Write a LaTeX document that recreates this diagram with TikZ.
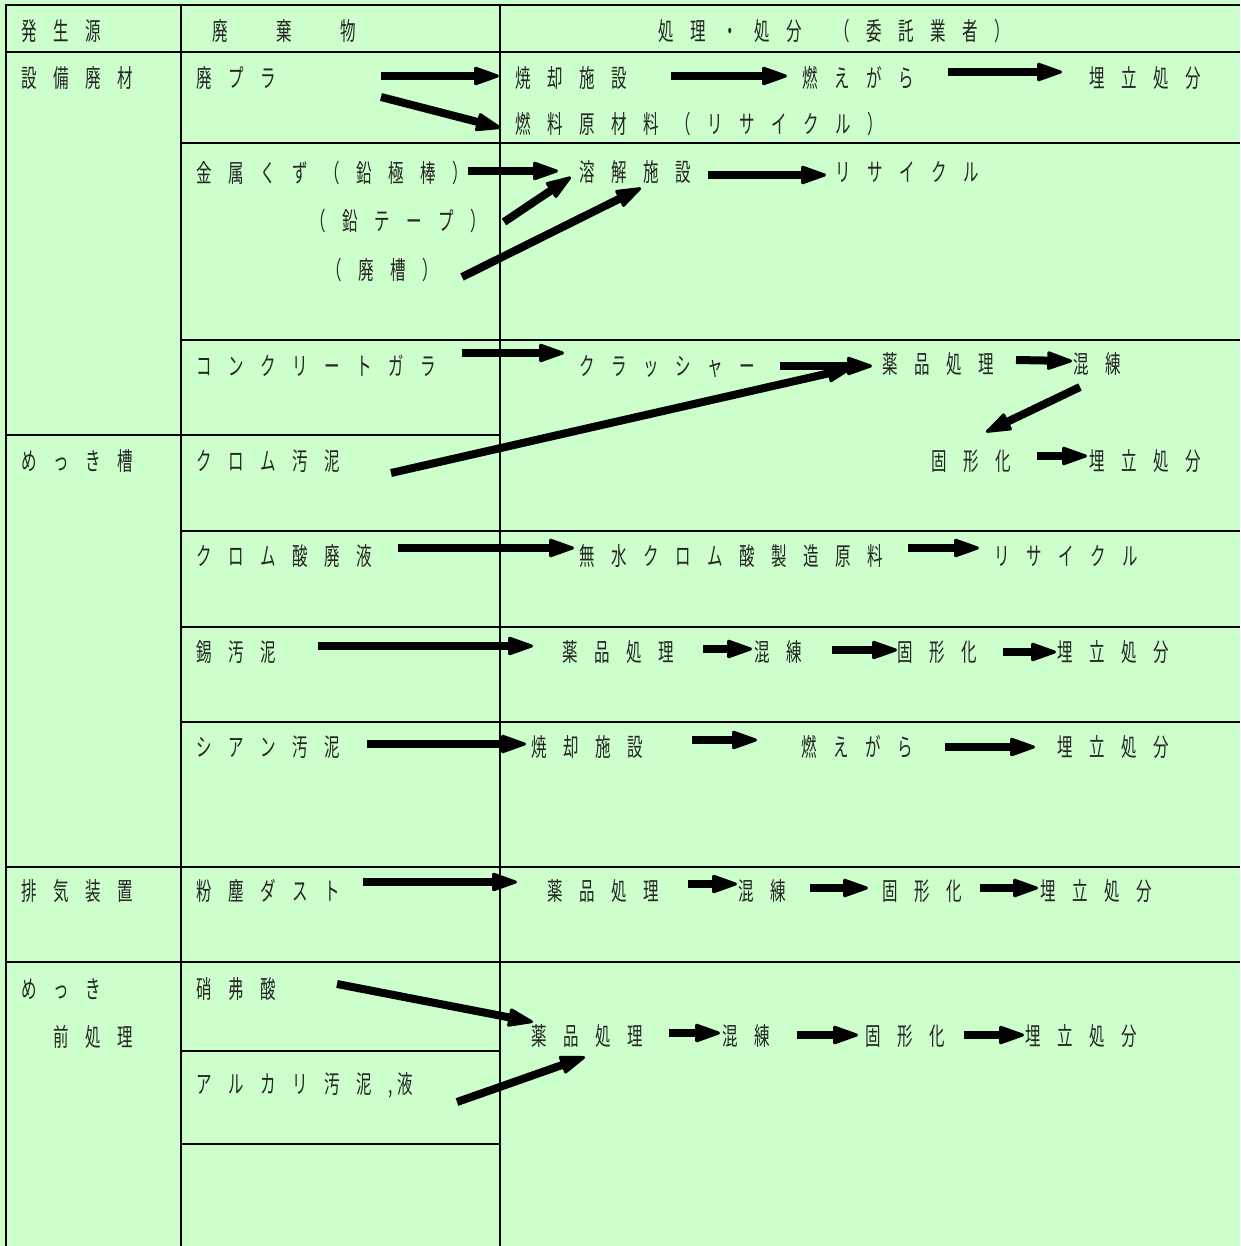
\documentclass[tikz,border=0pt]{standalone}
\usepackage{fontspec}
\usetikzlibrary{arrows.meta}
\newfontfamily\jpf[FakeStretch=0.62]{Noto Sans CJK JP}
\newcommand\jfont{\jpf\fontsize{25pt}{30pt}\selectfont}
\definecolor{bg}{HTML}{CCFFCC}
\ExplSyntaxOn
\NewDocumentCommand\jt{m}{\group_begin:\jfont\tl_map_inline:nn{#1}{\makebox[32pt][l]{##1}}\group_end:}
\ExplSyntaxOff
\tikzset{
  txt/.style={anchor=west, inner sep=0pt, text height=22pt, text depth=3pt, text=black!85},
  rule/.style={line width=1.8pt, black},
  flow/.style={line width=8pt, -{Triangle[length=28pt,width=19pt,line width=3pt,round]}}
}
\begin{document}
\begin{tikzpicture}[x=1pt,y=-1pt]
\useasboundingbox (0,0) rectangle (1240,1246);
\fill[bg] (0,0) rectangle (1240,1246);
% grid
\draw[rule] (6,1246) -- (6,5) -- (1240,5);
\draw[rule] (181,5) -- (181,1246);
\draw[rule] (500,5) -- (500,1246);
\draw[rule] (6,52) -- (1240,52);
\draw[rule] (181,143) -- (1240,143);
\draw[rule] (181,340) -- (1240,340);
\draw[rule] (6,435) -- (500,435);
\draw[rule] (181,531) -- (1240,531);
\draw[rule] (181,627) -- (1240,627);
\draw[rule] (181,722) -- (1240,722);
\draw[rule] (6,867) -- (1240,867);
\draw[rule] (6,962) -- (1240,962);
\draw[rule] (181,1051) -- (500,1051);
\draw[rule] (181,1144) -- (500,1144);
% header
\node[txt] (h1) at (21,31) {\jt{発生源}};
\node[txt] (h2) at (212,31) {\jt{廃　棄　物}};
\node[txt] (h3) at (658,31) {\jt{処理・処分}};
\node[txt] (h3b) at (834,31) {\jt{（委託業者）}};
% row 1
\node[txt] (s1) at (21,78) {\jt{設備廃材}};
\node[txt] (w1) at (196,78) {\jt{廃プラ}};
\node[txt] (p1a) at (515,78) {\jt{焼却施設}};
\node[txt] (p1b) at (802,78) {\jt{燃えがら}};
\node[txt] (p1c) at (1089,78) {\jt{埋立処分}};
\node[txt] (p1d) at (515,124) {\jt{燃料原材料（リサイクル）}};
% row 2
\node[txt] (w2a) at (196,173) {\jt{金属くず（鉛極棒）}};
\node[txt] (w2b) at (310,221) {\jt{（鉛テープ）}};
\node[txt] (w2c) at (326,270) {\jt{（廃槽）}};
\node[txt] (p2a) at (579,172) {\jt{溶解施設}};
\node[txt] (p2b) at (835,172) {\jt{リサイクル}};
% row 3
\node[txt] (w3) at (196,366) {\jt{コンクリートガラ}};
\node[txt] (p3a) at (579,366) {\jt{クラッシャー}};
\node[txt] (p3b) at (882,364) {\jt{薬品処理}};
\node[txt] (p3c) at (1073,364) {\jt{混練}};
% row 4
\node[txt] (s2) at (21,461) {\jt{めっき槽}};
\node[txt] (w4) at (196,461) {\jt{クロム汚泥}};
\node[txt] (p4a) at (931,461) {\jt{固形化}};
\node[txt] (p4b) at (1089,461) {\jt{埋立処分}};
% row 5
\node[txt] (w5) at (196,556) {\jt{クロム酸廃液}};
\node[txt] (p5a) at (579,556) {\jt{無水クロム酸製造原料}};
\node[txt] (p5b) at (994,556) {\jt{リサイクル}};
% row 6
\node[txt] (w6) at (196,652) {\jt{錫汚泥}};
\node[txt] (p6a) at (562,652) {\jt{薬品処理}};
\node[txt] (p6b) at (754,652) {\jt{混練}};
\node[txt] (p6c) at (897,652) {\jt{固形化}};
\node[txt] (p6d) at (1057,652) {\jt{埋立処分}};
% row 7
\node[txt] (w7) at (196,747) {\jt{シアン汚泥}};
\node[txt] (p7a) at (531,747) {\jt{焼却施設}};
\node[txt] (p7b) at (801,747) {\jt{燃えがら}};
\node[txt] (p7c) at (1057,747) {\jt{埋立処分}};
% row 8
\node[txt] (s3) at (21,891) {\jt{排気装置}};
\node[txt] (w8) at (196,891) {\jt{粉塵ダスト}};
\node[txt] (p8a) at (547,891) {\jt{薬品処理}};
\node[txt] (p8b) at (738,891) {\jt{混練}};
\node[txt] (p8c) at (882,891) {\jt{固形化}};
\node[txt] (p8d) at (1040,891) {\jt{埋立処分}};
% row 9
\node[txt] (s4a) at (21,989) {\jt{めっき}};
\node[txt] (s4b) at (53,1037) {\jt{前処理}};
\node[txt] (w9a) at (196,989) {\jt{硝弗酸}};
\node[txt] (w9b) at (196,1084) {\jt{アルカリ汚泥}{\jfont\makebox[9pt][l]{,}}\jt{液}};
\node[txt] (p9a) at (531,1036) {\jt{薬品処理}};
\node[txt] (p9b) at (722,1036) {\jt{混練}};
\node[txt] (p9c) at (865,1036) {\jt{固形化}};
\node[txt] (p9d) at (1025,1036) {\jt{埋立処分}};
% arrow end points
\coordinate (a1) at (381,76);   \coordinate (b1) at (499,76);
\coordinate (a2) at (381,97);   \coordinate (b2) at (501,128);
\coordinate (a3) at (671,76);   \coordinate (b3) at (787,76);
\coordinate (a4) at (948,72);   \coordinate (b4) at (1062,72);
\coordinate (a5) at (468,171);  \coordinate (b5) at (558,171);
\coordinate (a6) at (504,222);  \coordinate (b6) at (571,177);
\coordinate (a7) at (462,277);  \coordinate (b7) at (641,188);
\coordinate (a8) at (708,175);  \coordinate (b8) at (826,175);
\coordinate (a9) at (462,353);  \coordinate (b9) at (564,353);
\coordinate (a10) at (780,366); \coordinate (b10) at (872,366);
\coordinate (a11) at (391,473); \coordinate (b11) at (852,368);
\coordinate (a12) at (1016,360); \coordinate (b12) at (1072,361);
\coordinate (a13) at (1080,387); \coordinate (b13) at (986,432);
\coordinate (a14) at (1037,456); \coordinate (b14) at (1087,456);
\coordinate (a15) at (398,548); \coordinate (b15) at (574,548);
\coordinate (a16) at (908,548); \coordinate (b16) at (979,548);
\coordinate (a17) at (318,646); \coordinate (b17) at (533,646);
\coordinate (a18) at (703,649); \coordinate (b18) at (752,649);
\coordinate (a19) at (832,650); \coordinate (b19) at (897,650);
\coordinate (a20) at (1003,652); \coordinate (b20) at (1056,652);
\coordinate (a21) at (367,744); \coordinate (b21) at (526,744);
\coordinate (a22) at (692,740); \coordinate (b22) at (757,740);
\coordinate (a23) at (945,747); \coordinate (b23) at (1035,747);
\coordinate (a24) at (363,882); \coordinate (b24) at (517,882);
\coordinate (a25) at (688,884); \coordinate (b25) at (737,884);
\coordinate (a26) at (810,888); \coordinate (b26) at (868,888);
\coordinate (a27) at (980,888); \coordinate (b27) at (1038,888);
\coordinate (a28) at (337,984); \coordinate (b28) at (533,1022);
\coordinate (a29) at (457,1102); \coordinate (b29) at (585,1057);
\coordinate (a30) at (669,1033); \coordinate (b30) at (720,1033);
\coordinate (a31) at (797,1035); \coordinate (b31) at (858,1035);
\coordinate (a32) at (964,1035); \coordinate (b32) at (1024,1035);
\foreach \i in {1,...,32} { \draw[flow] (a\i) -- (b\i); }
\end{tikzpicture}
\end{document}
